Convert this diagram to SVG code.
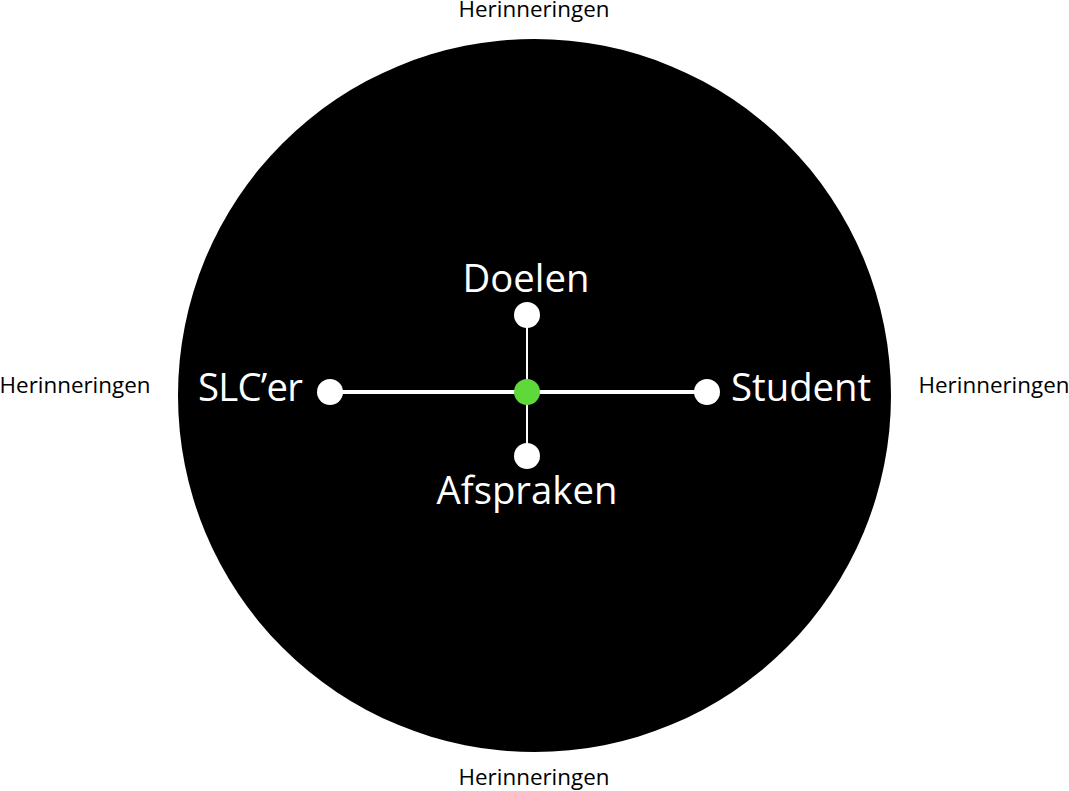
<svg xmlns="http://www.w3.org/2000/svg" width="1069" height="791" viewBox="0 0 1069 791">
<style>
.big{font-family:"Open Sans","Liberation Sans",sans-serif;font-size:38.3px;fill:#fff}
.small{font-family:"Open Sans","Liberation Sans",sans-serif;font-size:22.4px;fill:#000}
.dot{fill:#fff}
</style>
<rect width="1069" height="791" fill="#fff"/>
<g id="circle"><circle cx="534.5" cy="395.5" r="356.5" fill="#000"/></g>
<g id="labels-outer">
<text class="small" x="534" y="17" text-anchor="middle">Herinneringen</text>
<text class="small" x="75" y="393" text-anchor="middle">Herinneringen</text>
<text class="small" x="994" y="393" text-anchor="middle">Herinneringen</text>
<text class="small" x="534" y="785" text-anchor="middle">Herinneringen</text>
</g>
<g id="connectors">
<line x1="330" y1="392" x2="707" y2="392" stroke="#fff" stroke-width="4"/>
<line x1="527" y1="315" x2="527" y2="456" stroke="#fff" stroke-width="2"/>
</g>
<g id="node-doelen"><circle class="dot" cx="527" cy="315" r="13"/><text class="big" x="526" y="292" text-anchor="middle">Doelen</text></g>
<g id="node-afspraken"><circle class="dot" cx="527" cy="456" r="13"/><text class="big" x="527" y="504" text-anchor="middle">Afspraken</text></g>
<g id="node-slcer"><circle class="dot" cx="330" cy="392" r="13"/><text class="big" x="303" y="401" text-anchor="end" textLength="105">SLC’er</text></g>
<g id="node-student"><circle class="dot" cx="707" cy="392" r="13"/><text class="big" x="731" y="401">Student</text></g>
<g id="node-center"><circle cx="527" cy="392" r="13" fill="#5fd93a"/></g>
</svg>
